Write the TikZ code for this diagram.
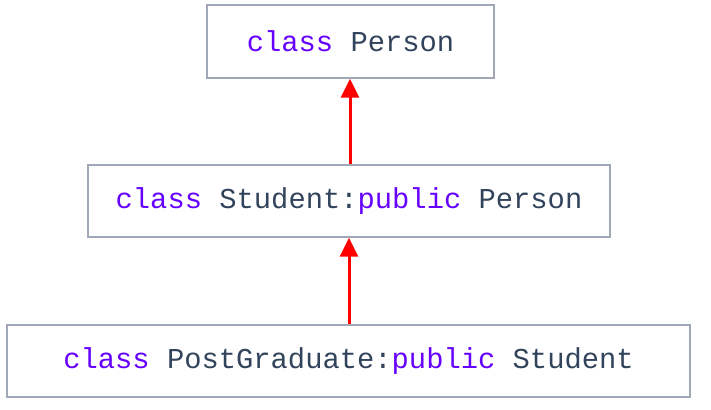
\documentclass[tikz,border=0pt]{standalone}
\usepackage{fontspec}
\setmonofont{Liberation Mono}
\usetikzlibrary{arrows.meta}
\definecolor{kw}{RGB}{102,0,255}
\definecolor{txt}{RGB}{50,68,92}
\definecolor{bord}{RGB}{160,168,184}
\definecolor{arr}{RGB}{255,0,0}
\tikzset{
  cbox/.style={draw=bord, line width=1.3pt, fill=white, inner sep=0pt, text=txt,
    font=\ttfamily\fontsize{28.8}{30}\selectfont},
  inh/.style={draw=arr, line width=3pt, -{Triangle[width=18pt,length=19pt]}}
}
\newcommand{\kwd}[1]{\textcolor{kw}{#1}}
\begin{document}
\begin{tikzpicture}[x=1pt,y=-1pt]
\useasboundingbox[fill=white] (0,0) rectangle (711,409);
\node[cbox, minimum width=287pt, minimum height=73pt] (p) at (350.5,41.5) {\kwd{class} Person};
\node[cbox, minimum width=522pt, minimum height=72pt] (s) at (349,201) {\kwd{class} Student:\kwd{public} Person};
\node[cbox, minimum width=683pt, minimum height=72pt] (g) at (348.5,361) {\kwd{class} PostGraduate:\kwd{public} Student};
\draw[inh] (s.north -| 350,0) -- (p.south -| 350,0);
\draw[inh] (g.north -| 349,0) -- (s.south -| 349,0);
\end{tikzpicture}
\end{document}
